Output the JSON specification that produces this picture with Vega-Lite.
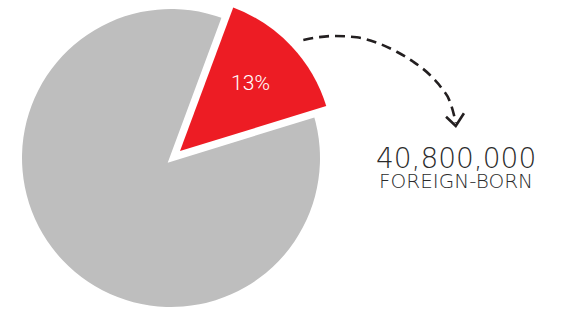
{
  "$schema": "https://vega.github.io/schema/vega-lite/v6.json",
  "width": 567,
  "height": 309,
  "autosize": {"type": "none"},
  "padding": 0,
  "background": "white",
  "config": {"view": {"stroke": null}},
  "datasets": {
    "pie": [
      {"group": "Foreign-born", "share": 14.6, "label": "13%", "rank": 1},
      {"group": "Native-born", "share": 85.4, "label": "", "rank": 2}
    ],
    "arrow": [
      {"part": "curve", "i": 1, "x": 0.888, "y": 0.792},
      {"part": "curve", "i": 2, "x": 1.089, "y": 0.819},
      {"part": "curve", "i": 3, "x": 1.246, "y": 0.810},
      {"part": "curve", "i": 4, "x": 1.381, "y": 0.774},
      {"part": "curve", "i": 5, "x": 1.515, "y": 0.713},
      {"part": "curve", "i": 6, "x": 1.626, "y": 0.646},
      {"part": "curve", "i": 7, "x": 1.738, "y": 0.557},
      {"part": "curve", "i": 8, "x": 1.817, "y": 0.468},
      {"part": "curve", "i": 9, "x": 1.872, "y": 0.378},
      {"part": "curve", "i": 10, "x": 1.899, "y": 0.289},
      {"part": "curve", "i": 11, "x": 1.911, "y": 0.235},
      {"part": "head", "i": 1, "x": 1.846, "y": 0.277},
      {"part": "head", "i": 2, "x": 1.911, "y": 0.215},
      {"part": "head", "i": 3, "x": 1.966, "y": 0.300}
    ],
    "notes": [
      {"count": "40,800,000", "caption": "FOREIGN-BORN"}
    ]
  },
  "layer": [
    {
      "data": {"name": "pie"},
      "transform": [
        {"stack": "share", "groupby": [], "sort": [{"field": "rank", "order": "ascending"}], "as": ["start", "end"]},
        {"filter": "datum.group === 'Native-born'"}
      ],
      "mark": {"type": "arc", "radius": 149, "fill": "#BEBEBE"},
      "encoding": {
        "theta": {"field": "start", "type": "quantitative", "scale": {"domain": [0, 100], "range": [0.3552, 6.6384]}},
        "theta2": {"field": "end"},
        "x": {"datum": 0, "type": "quantitative", "scale": {"domain": [-1.1477, 2.6577], "nice": false, "zero": false}, "axis": null},
        "y": {"datum": 0, "type": "quantitative", "scale": {"domain": [-1.0134, 1.0604], "nice": false, "zero": false}, "axis": null}
      }
    },
    {
      "data": {"name": "pie"},
      "transform": [
        {"stack": "share", "groupby": [], "sort": [{"field": "rank", "order": "ascending"}], "as": ["start", "end"]},
        {"filter": "datum.group === 'Foreign-born'"}
      ],
      "mark": {"type": "arc", "radius": 153, "fill": "#ffffff", "stroke": "#ffffff", "strokeWidth": 15, "strokeJoin": "miter"},
      "encoding": {
        "theta": {"field": "start", "type": "quantitative", "scale": {"domain": [0, 100], "range": [0.3552, 6.6384]}},
        "theta2": {"field": "end"},
        "x": {"datum": 0.0604, "type": "quantitative"},
        "y": {"datum": 0.047, "type": "quantitative"}
      }
    },
    {
      "data": {"name": "pie"},
      "transform": [
        {"stack": "share", "groupby": [], "sort": [{"field": "rank", "order": "ascending"}], "as": ["start", "end"]},
        {"filter": "datum.group === 'Foreign-born'"}
      ],
      "mark": {"type": "arc", "radius": 153, "fill": "#ED1C24"},
      "encoding": {
        "theta": {"field": "start", "type": "quantitative", "scale": {"domain": [0, 100], "range": [0.3552, 6.6384]}},
        "theta2": {"field": "end"},
        "x": {"datum": 0.0604, "type": "quantitative"},
        "y": {"datum": 0.047, "type": "quantitative"}
      }
    },
    {
      "data": {"name": "pie"},
      "mark": {"type": "text", "radius": 97, "color": "#ffffff", "font": "Roboto", "fontSize": 21, "fontWeight": 300, "align": "center", "baseline": "middle"},
      "encoding": {
        "theta": {"field": "share", "type": "quantitative", "stack": true, "scale": {"domain": [0, 100], "range": [0.3552, 6.6384]}},
        "order": {"field": "rank", "type": "quantitative"},
        "text": {"field": "label", "type": "nominal"},
        "x": {"datum": 0.0604, "type": "quantitative"},
        "y": {"datum": 0.047, "type": "quantitative"}
      }
    },
    {
      "data": {"name": "arrow"},
      "transform": [{"filter": "datum.part === 'curve'"}],
      "mark": {"type": "line", "color": "#231F20", "strokeWidth": 2.6, "strokeDash": [10, 6], "interpolate": "monotone", "strokeCap": "butt"},
      "encoding": {
        "x": {"field": "x", "type": "quantitative"},
        "y": {"field": "y", "type": "quantitative"},
        "order": {"field": "i", "type": "quantitative"}
      }
    },
    {
      "data": {"name": "arrow"},
      "transform": [{"filter": "datum.part === 'head'"}],
      "mark": {"type": "line", "color": "#231F20", "strokeWidth": 2.6, "strokeJoin": "miter", "strokeCap": "butt"},
      "encoding": {
        "x": {"field": "x", "type": "quantitative"},
        "y": {"field": "y", "type": "quantitative"},
        "order": {"field": "i", "type": "quantitative"}
      }
    },
    {
      "data": {"name": "notes"},
      "mark": {"type": "text", "font": "DejaVu Sans", "fontSize": 28, "fontWeight": 200, "color": "#2B2B2B", "align": "center", "baseline": "alphabetic"},
      "encoding": {
        "text": {"field": "count", "type": "nominal"},
        "x": {"datum": 1.913, "type": "quantitative"},
        "y": {"datum": -0.0671, "type": "quantitative"}
      }
    },
    {
      "data": {"name": "notes"},
      "mark": {"type": "text", "font": "DejaVu Sans", "fontSize": 20, "fontWeight": 200, "color": "#2B2B2B", "align": "center", "baseline": "alphabetic"},
      "encoding": {
        "text": {"field": "caption", "type": "nominal"},
        "x": {"datum": 1.913, "type": "quantitative"},
        "y": {"datum": -0.2013, "type": "quantitative"}
      }
    }
  ]
}
